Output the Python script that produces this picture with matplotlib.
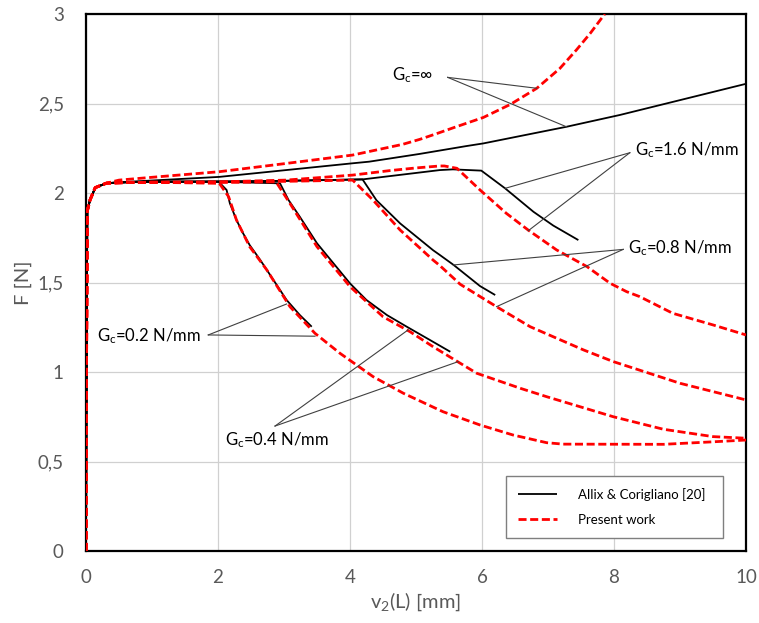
import matplotlib
matplotlib.use("Agg")
import matplotlib.pyplot as plt

plt.rcParams['font.family'] = ['Lato', 'DejaVu Sans']
plt.rcParams['mathtext.fontset'] = 'custom'
plt.rcParams['mathtext.rm'] = 'Lato'
plt.rcParams['mathtext.it'] = 'Lato:italic'

# ---------------- data ----------------
rise_x = [0, 0.01, 0.02, 0.06, 0.14, 0.31]
rise_y = [0, 1.2, 1.9, 1.96, 2.03, 2.055]

# Allix & Corigliano (black, solid)
ac_inf_x = [0.6, 1.01, 2.02, 3.03, 4.04, 4.29, 5.05, 5.76, 6.02, 7.28, 8.09, 10.0]
ac_inf_y = [2.062, 2.07, 2.09, 2.128, 2.166, 2.175, 2.218, 2.262, 2.277, 2.37, 2.436, 2.61]

ac_16_x = [0.6, 1.0, 2.0, 3.0, 4.19, 5.36, 5.56, 5.99, 6.35, 6.78, 7.08, 7.46]
ac_16_y = [2.06, 2.063, 2.064, 2.068, 2.076, 2.128, 2.132, 2.125, 2.026, 1.895, 1.818, 1.737]

ac_08_x = [0.6, 1.0, 2.0, 3.0, 4.19, 4.4, 4.76, 5.26, 5.36, 5.57, 5.97, 6.2]
ac_08_y = [2.06, 2.063, 2.064, 2.068, 2.076, 1.96, 1.83, 1.68, 1.654, 1.598, 1.48, 1.43]

ac_04_x = [0.6, 1.0, 2.0, 2.94, 3.07, 3.24, 3.50, 3.75, 4.0, 4.25, 4.56, 4.86, 5.21, 5.52]
ac_04_y = [2.06, 2.063, 2.063, 2.054, 1.96, 1.867, 1.719, 1.607, 1.495, 1.402, 1.318, 1.253, 1.179, 1.113]

ac_02_x = [0.6, 1.0, 2.01, 2.13, 2.18, 2.28, 2.38, 2.48, 2.64, 2.84, 3.04, 3.24, 3.42]
ac_02_y = [2.06, 2.063, 2.063, 2.017, 1.942, 1.849, 1.775, 1.709, 1.626, 1.514, 1.402, 1.318, 1.253]

# Present work (red, dashed)
pw_inf_x = [0.5, 1.01, 2.02, 3.03, 4.04, 4.80, 5.06, 5.30, 5.57, 6.02, 6.43, 6.83, 7.18, 7.43, 7.64, 7.86]
pw_inf_y = [2.072, 2.088, 2.119, 2.165, 2.212, 2.272, 2.300, 2.330, 2.365, 2.422, 2.495, 2.585, 2.696, 2.799, 2.892, 3.0]

pw_16_x = [0.6, 1.0, 2.0, 3.03, 4.04, 4.6, 5.0, 5.36, 5.43, 5.62, 5.97, 6.37, 6.70, 7.13, 7.59, 7.94,
           8.19, 8.39, 8.89, 9.5, 10.0]
pw_16_y = [2.058, 2.06, 2.062, 2.072, 2.10, 2.125, 2.14, 2.151, 2.151, 2.138, 2.017, 1.886, 1.793, 1.682,
           1.589, 1.496, 1.449, 1.421, 1.328, 1.263, 1.207]

pw_08_x = [0.6, 1.0, 2.0, 3.0, 4.04, 4.35, 4.76, 5.26, 5.36, 5.67, 6.22, 6.73, 7.54, 7.99, 9.0, 10.0]
pw_08_y = [2.058, 2.06, 2.06, 2.065, 2.072, 1.96, 1.793, 1.625, 1.595, 1.49, 1.365, 1.253, 1.123, 1.058, 0.937, 0.844]

pw_04_x = [0.6, 1.0, 2.0, 2.88, 3.09, 3.50, 4.0, 4.50, 4.91, 5.26, 5.67, 5.92, 6.58, 6.98, 7.99, 8.75, 9.5, 10.0]
pw_04_y = [2.058, 2.06, 2.06, 2.062, 1.942, 1.70, 1.477, 1.309, 1.225, 1.141, 1.049, 0.993, 0.909, 0.862, 0.75, 0.68, 0.639, 0.63]

pw_02_x = [0.6, 1.0, 2.02, 2.16, 2.28, 2.48, 2.74, 3.09, 3.47, 3.85, 4.35, 4.81, 5.41, 5.97, 6.47, 6.98, 7.23,
           8.75, 9.5, 10.0]
pw_02_y = [2.058, 2.06, 2.054, 1.98, 1.849, 1.70, 1.57, 1.365, 1.216, 1.104, 0.974, 0.881, 0.778, 0.704, 0.648,
           0.605, 0.597, 0.596, 0.61, 0.62]

xticks = [0, 2, 4, 6, 8, 10]
xtick_labels = ['0', '2', '4', '6', '8', '10']
yticks = [0, 0.5, 1, 1.5, 2, 2.5, 3]
ytick_labels = ['0', '0,5', '1', '1,5', '2', '2,5', '3']

# annotations: label, text pos, line start, line ends
ann_labels = [r'G$_{\mathrm{c}}$=∞', r'G$_{\mathrm{c}}$=1.6 N/mm', r'G$_{\mathrm{c}}$=0.8 N/mm',
              r'G$_{\mathrm{c}}$=0.2 N/mm', r'G$_{\mathrm{c}}$=0.4 N/mm']
ann_text_xy = [(4.636, 2.659), (8.318, 2.24), (8.21, 1.693), (0.167, 1.20), (2.106, 0.62)]
ann_start = [(5.48, 2.646), (8.24, 2.225), (8.14, 1.685), (1.853, 1.207), (2.864, 0.698)]
ann_end1 = [(6.83, 2.585), (6.35, 2.026), (5.565, 1.598), (3.04, 1.38), (4.88, 1.235)]
ann_end2 = [(7.28, 2.37), (6.70, 1.789), (6.22, 1.365), (3.47, 1.20), (5.64, 1.058)]

# ---------------- plot ----------------
fig = plt.figure(figsize=(7.59, 6.23), dpi=100)
ax = fig.add_axes([86/759, 72/623, 660/759, 537/623])

black_kw = dict(color='black', lw=1.3, solid_capstyle='butt', solid_joinstyle='round')
red_kw = dict(color='#ff0000', lw=2.0, dashes=(2.9, 1.3))

black_sets = [(ac_inf_x, ac_inf_y), (ac_16_x, ac_16_y), (ac_08_x, ac_08_y),
              (ac_04_x, ac_04_y), (ac_02_x, ac_02_y)]
red_sets = [(pw_inf_x, pw_inf_y), (pw_16_x, pw_16_y), (pw_08_x, pw_08_y),
            (pw_04_x, pw_04_y), (pw_02_x, pw_02_y)]

for i, (xs, ys) in enumerate(black_sets):
    ax.plot(rise_x + xs, rise_y + ys, label='Allix & Corigliano [20]' if i == 0 else None,
            zorder=3, **black_kw)
for i, (xs, ys) in enumerate(red_sets):
    ax.plot(rise_x + xs, rise_y + ys, label='Present work' if i == 0 else None,
            zorder=4, **red_kw)

for lab, txy, s, e1, e2 in zip(ann_labels, ann_text_xy, ann_start, ann_end1, ann_end2):
    ax.text(txy[0], txy[1], lab, fontsize=12, color='black', ha='left', va='center', zorder=6)
    for e in (e1, e2):
        ax.plot([s[0], e[0]], [s[1], e[1]], color='#404040', lw=0.8, zorder=5)

ax.set_xlim(0, 10)
ax.set_ylim(0, 3)
ax.set_xticks(xticks)
ax.set_xticklabels(xtick_labels)
ax.set_yticks(yticks)
ax.set_yticklabels(ytick_labels)
ax.tick_params(length=0, labelsize=13.5, labelcolor='#595959')
ax.tick_params(axis='x', pad=13)
ax.tick_params(axis='y', pad=16)
ax.grid(True, color='#d0d0d0', lw=0.9)
ax.set_axisbelow(True)
for sp in ax.spines.values():
    sp.set_color('black')
    sp.set_linewidth(1.6)

ax.set_xlabel('v$_{2}$(L) [mm]', fontsize=14.5, color='#595959', labelpad=3)
ax.set_ylabel('F [N]', fontsize=14.5, color='#595959', labelpad=4)

leg = ax.legend(loc='lower left', bbox_to_anchor=(0.636, 0.025, 0.329, 0.118), mode='expand',
                fontsize=9.5, fancybox=False, edgecolor='#7f7f7f', framealpha=1,
                handlelength=3.0, handletextpad=1.6, borderpad=0.9, labelspacing=1.0,
                borderaxespad=0)
leg.get_frame().set_linewidth(1.0)

fig.savefig('out.png', dpi=100)
